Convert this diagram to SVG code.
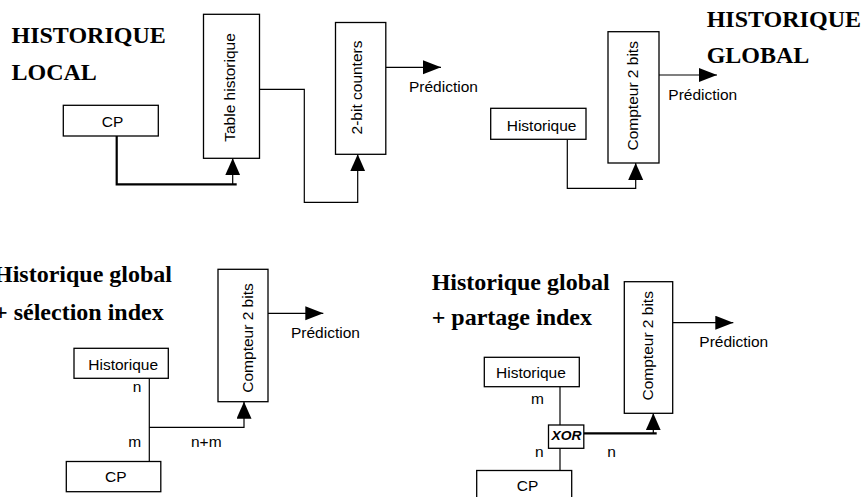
<svg xmlns="http://www.w3.org/2000/svg" width="865" height="497" viewBox="0 0 865 497">
<style>
.box{fill:#fff;stroke:#000;stroke-width:1.3}
.t{font-family:"Liberation Sans",Arial,sans-serif;font-size:15.5px;fill:#000}
.title{font-family:"Liberation Serif","Times New Roman",serif;font-size:24px;font-weight:bold;fill:#000}
.c{fill:none;stroke:#000;stroke-width:1.2}
.thick{fill:none;stroke:#000;stroke-width:2.2}
.xor{font-family:"Liberation Sans",Arial,sans-serif;font-size:12.5px;font-weight:bold;font-style:italic;fill:#000}
</style>
<defs>
<marker id="ah" markerUnits="userSpaceOnUse" markerWidth="19" markerHeight="15" refX="18" refY="7" orient="auto">
<path d="M0,0 L18,7 L0,14 Z" fill="#000"/>
</marker>
<marker id="au" markerUnits="userSpaceOnUse" markerWidth="18" markerHeight="16" refX="17" refY="7.5" orient="auto">
<path d="M0,0 L17,7.5 L0,15 Z" fill="#000"/>
</marker>
</defs>
<rect width="865" height="497" fill="#fff"/>

<g id="titles">
<text class="title" x="11.5" y="43.3">HISTORIQUE</text>
<text class="title" x="11.5" y="80">LOCAL</text>
<text class="title" x="706.7" y="26.7">HISTORIQUE</text>
<text class="title" x="706.7" y="63.3">GLOBAL</text>
<text class="title" x="-6" y="281.7">Historique global</text>
<text class="title" x="-6" y="320">+ sélection index</text>
<text class="title" x="431.7" y="290">Historique global</text>
<text class="title" x="431.7" y="325">+ partage index</text>
</g>

<g id="connectors">
<path class="thick" d="M116.7,130 V184.3 H236.7"/>
<path class="c" d="M232.7,184.3 V158.3" marker-end="url(#au)"/>
<path class="c" d="M259.5,89.3 H304.3 V202.3 H357.7 V154.3" marker-end="url(#au)"/>
<path class="c" d="M385.8,67.3 H441" marker-end="url(#ah)"/>
<path class="c" d="M567.3,139.3 V188.3 H635.7 V163" marker-end="url(#au)"/>
<path class="c" d="M659,75 H717" marker-end="url(#ah)"/>
<path class="c" d="M149.3,378.3 V461.5"/>
<path class="c" d="M149.3,427.3 H244 V401.7" marker-end="url(#au)"/>
<path class="c" d="M268,313.3 H323.3" marker-end="url(#ah)"/>
<path class="c" d="M560,386.7 V425"/>
<path class="c" d="M560,448.3 V470.5"/>
<path class="thick" d="M583.8,433.3 H656.7"/>
<path class="c" d="M653.3,433.3 V413.3" marker-end="url(#au)"/>
<path class="c" d="M672.7,322.7 H733.3" marker-end="url(#ah)"/>
</g>

<g id="tl-cp"><rect class="box" x="63.3" y="105.3" width="95" height="30.7"/><text class="t" x="101.7" y="126.7">CP</text></g>
<g id="tl-table"><rect class="box" x="203.5" y="14.3" width="56" height="144"/><text class="t" text-anchor="middle" transform="translate(234.7,87.5) rotate(-90)">Table historique</text></g>
<g id="tl-counters"><rect class="box" x="335.5" y="22.5" width="50.3" height="131.8"/><text class="t" text-anchor="middle" transform="translate(362.3,87.5) rotate(-90)">2-bit counters</text></g>
<g id="tl-pred"><text class="t" x="409" y="91.7">Prédiction</text></g>

<g id="tr-hist"><rect class="box" x="490.7" y="108.3" width="95.3" height="31"/><text class="t" x="506.7" y="130.7">Historique</text></g>
<g id="tr-compteur"><rect class="box" x="608" y="31.7" width="51" height="131.3"/><text class="t" text-anchor="middle" transform="translate(638.4,95.8) rotate(-90)">Compteur 2 bits</text></g>
<g id="tr-pred"><text class="t" x="668.3" y="100">Prédiction</text></g>

<g id="bl-hist"><rect class="box" x="74" y="348.3" width="94.3" height="30"/><text class="t" x="88.3" y="370">Historique</text></g>
<g id="bl-compteur"><rect class="box" x="218" y="269.3" width="50" height="132.4"/><text class="t" text-anchor="middle" transform="translate(253.4,338) rotate(-90)">Compteur 2 bits</text></g>
<g id="bl-cp"><rect class="box" x="66.3" y="461.5" width="94.5" height="30.2"/><text class="t" x="105" y="481.7">CP</text></g>
<g id="bl-labels">
<text class="t" x="132.7" y="391.7">n</text>
<text class="t" x="128.3" y="447.3">m</text>
<text class="t" x="191" y="447.3">n+m</text>
</g>
<g id="bl-pred"><text class="t" x="291" y="338.3">Prédiction</text></g>

<g id="br-hist"><rect class="box" x="484.3" y="357.3" width="95" height="29.4"/><text class="t" x="496" y="378.3">Historique</text></g>
<g id="br-xor"><rect class="box" x="548.5" y="425" width="35.3" height="23.3"/><text class="xor" x="551.5" y="439.5" textLength="30" lengthAdjust="spacingAndGlyphs">XOR</text></g>
<g id="br-compteur"><rect class="box" x="624.3" y="281.7" width="48.4" height="131.6"/><text class="t" text-anchor="middle" transform="translate(653.4,345.8) rotate(-90)">Compteur 2 bits</text></g>
<g id="br-cp"><rect class="box" x="476.7" y="470.5" width="95" height="40"/><text class="t" x="516.7" y="490.7">CP</text></g>
<g id="br-labels">
<text class="t" x="531" y="404">m</text>
<text class="t" x="535" y="456.7">n</text>
<text class="t" x="607.3" y="456.7">n</text>
</g>
<g id="br-pred"><text class="t" x="699.3" y="347.3">Prédiction</text></g>
</svg>
